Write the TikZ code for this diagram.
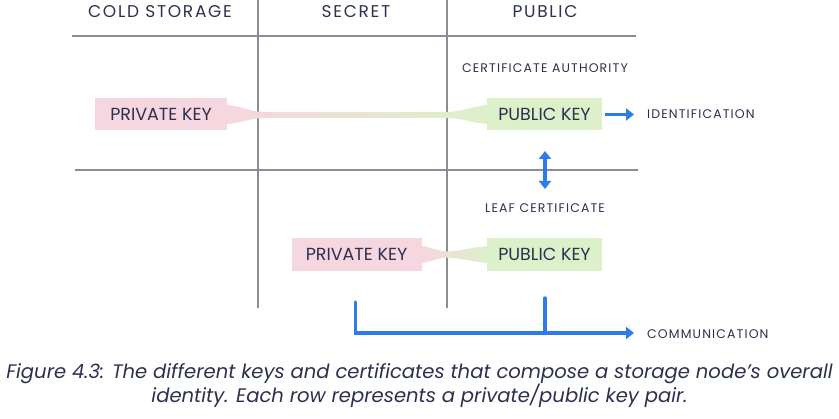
\documentclass[tikz,border=0pt]{standalone}
\usepackage{fontspec}
\setmainfont{Poppins}
\newfontfamily\hdrfont[LetterSpace=10]{Poppins}
\newfontfamily\smallfont[LetterSpace=9]{Poppins}
\usetikzlibrary{arrows.meta,calc}
\definecolor{navy}{HTML}{2D3050}
\definecolor{gline}{HTML}{8C8C94}
\definecolor{bluec}{HTML}{2E7BEA}
\definecolor{pinkc}{HTML}{F6D6DF}
\definecolor{greenc}{HTML}{DCF1CA}
\begin{document}
\begin{tikzpicture}[x=1pt,y=-1pt,
  hdr/.style={text=navy,font=\hdrfont\fontsize{17}{20}\selectfont,inner sep=0pt},
  lbl/.style={text=navy,font=\smallfont\fontsize{12.5}{15}\selectfont,inner sep=0pt},
  keybox/.style={text=navy,font=\fontsize{17.5}{20}\selectfont,minimum height=32pt,inner sep=0pt},
  privbox/.style={keybox,fill=pinkc},
  pubbox/.style={keybox,fill=greenc},
  grid/.style={draw=gline,line width=1.2pt},
  bluearrow/.style={draw=bluec,line width=3.2pt,-{Triangle[length=8pt,width=12pt]}},
  bluedbl/.style={draw=bluec,line width=3.2pt,{Triangle[length=8pt,width=12pt]}-{Triangle[length=8pt,width=12pt]}},
  blueline/.style={draw=bluec,line width=3.2pt,line cap=round},
  capt/.style={text=navy,font=\itshape\fontsize{19.6}{23}\selectfont,align=center,inner sep=0pt}
]
\useasboundingbox (0,0) rectangle (839,419);
% grid
\coordinate (v1t) at (258,0); \coordinate (v1b) at (258,308);
\coordinate (v2t) at (447,0); \coordinate (v2b) at (447,308);
\coordinate (h1l) at (72,36); \coordinate (h1r) at (636,36);
\coordinate (h2l) at (75,170); \coordinate (h2r) at (638,170);
\draw[grid] (v1t) -- (v1b);
\draw[grid] (v2t) -- (v2b);
\draw[grid] (h1l) -- (h1r);
\draw[grid] (h2l) -- (h2r);
% headers
\node[hdr] (hcold) at (160,12) {COLD STORAGE};
\node[hdr] (hsecret) at (356,12) {SECRET};
\node[hdr] (hpublic) at (545,12) {PUBLIC};
% labels
\node[lbl] (ca) at (545,68) {CERTIFICATE AUTHORITY};
\node[lbl] (leaf) at (545,208) {LEAF CERTIFICATE};
\node[lbl,anchor=west] (ident) at (647,114.5) {IDENTIFICATION};
\node[lbl,anchor=west] (comm) at (647,334) {COMMUNICATION};
% tapers (drawn under boxes)
\shade[left color=pinkc,right color=greenc]
  (227,105) .. controls (242,106) and (250,112) .. (264,112)
  -- (446,112) .. controls (462,112) and (472,106) .. (488,105)
  -- (488,124) .. controls (472,123) and (462,118) .. (446,118)
  -- (264,118) .. controls (250,118) and (242,123) .. (227,124) -- cycle;
\shade[left color=pinkc,right color=greenc]
  (421,246) .. controls (432,247) and (438,251.5) .. (447,251.5)
  .. controls (458,251.5) and (474,247) .. (488,246)
  -- (488,263) .. controls (474,262) and (458,257.5) .. (447,257.5)
  .. controls (438,257.5) and (432,262) .. (421,263) -- cycle;
% key boxes
\node[privbox,minimum width=132pt] (priv1) at (161,114.5) {PRIVATE KEY};
\node[pubbox,minimum width=115pt] (pub1) at (544.5,114.5) {PUBLIC KEY};
\node[privbox,minimum width=130pt,minimum height=33pt] (priv2) at (356.5,254.5) {PRIVATE KEY};
\node[pubbox,minimum width=115pt,minimum height=33pt] (pub2) at (544.5,254.5) {PUBLIC KEY};
% blue connectors
\coordinate (idend) at (634,114.5);
\draw[bluearrow] ($(pub1.east)+(3,0)$) -- (idend);
\coordinate (dtop) at (545,151);
\coordinate (dbot) at (545,189);
\draw[bluedbl] (dtop) -- (dbot);
\coordinate (cl) at (355.5,302);
\coordinate (cc) at (545,298);
\coordinate (cj) at (545,333);
\coordinate (cend) at (634,333);
\draw[blueline] (cl) |- (cj);
\draw[blueline] (cc) -- (cj);
\draw[bluearrow] (cj) -- (cend);
% caption
\node[capt] (caption) at (419.5,385.5) {Figure 4.3: The different keys and certificates that compose a storage node's overall\\identity. Each row represents a private/public key pair.};
\end{tikzpicture}
\end{document}
